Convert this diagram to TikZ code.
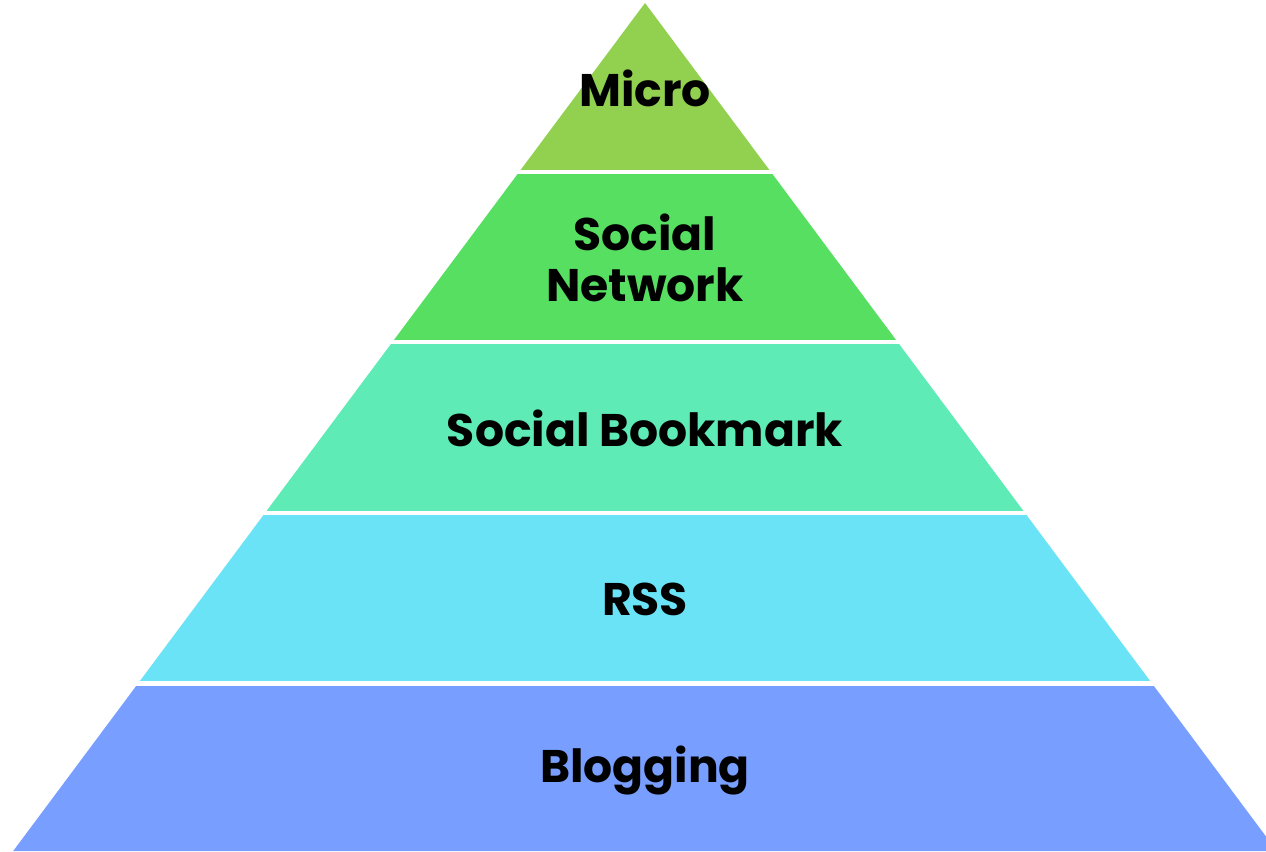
\documentclass[tikz,border=0pt]{standalone}
\usepackage{fontspec}
\setmainfont{Poppins}
\definecolor{microgreen}{RGB}{146,208,80}
\definecolor{networkgreen}{RGB}{87,223,98}
\definecolor{bookmarkgreen}{RGB}{94,235,182}
\definecolor{rsscyan}{RGB}{106,227,247}
\definecolor{blogblue}{RGB}{120,158,255}
\tikzset{
  layerlabel/.style={font=\fontsize{26}{30}\selectfont\bfseries, align=center, text=black, inner sep=0pt}
}
\begin{document}
\begin{tikzpicture}[x=0.02cm, y=-0.02cm]
\useasboundingbox (0,0) rectangle (1266,851);
\begin{scope}
\clip (645,3) -- (13.2,851) -- (1276.8,851) -- cycle;
\fill[microgreen]    (0,0)   rectangle (1300,170);
\fill[networkgreen]  (0,174) rectangle (1300,340);
\fill[bookmarkgreen] (0,344) rectangle (1300,511);
\fill[rsscyan]       (0,515) rectangle (1300,681);
\fill[blogblue]      (0,686) rectangle (1300,860);
\end{scope}
\node[layerlabel] (micro)    at (645,88)  {Micro};
\node[layerlabel] (network)  at (645,258) {Social\\[-1pt]Network};
\node[layerlabel] (bookmark) at (645,428) {Social Bookmark};
\node[layerlabel] (rss)      at (645,599) {RSS};
\node[layerlabel] (blogging) at (645,770) {Blogging};
\end{tikzpicture}
\end{document}
